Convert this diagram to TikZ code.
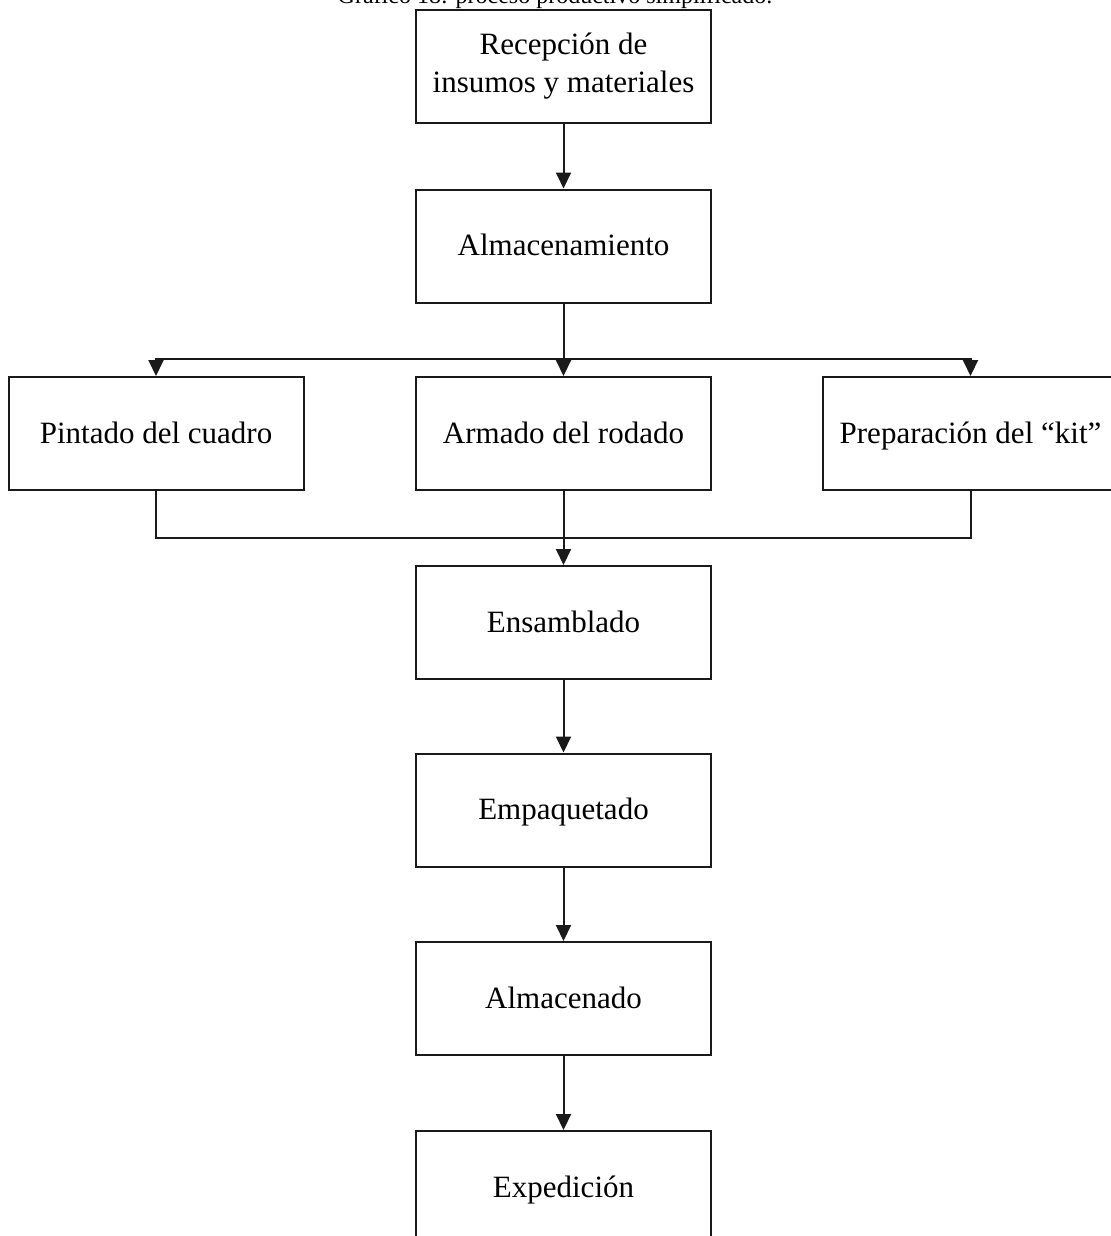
\documentclass[tikz,border=0pt]{standalone}
\usepackage{fontspec}
\setmainfont{Liberation Serif}
\usetikzlibrary{arrows.meta}
\definecolor{linea}{HTML}{1A1A1A}

\begin{document}
\begin{tikzpicture}[x=0.5pt,y=-0.5pt,
  paso/.style={draw=linea,line width=1pt,minimum width=147.5pt,minimum height=56.5pt,
    inner sep=0pt,align=center,font=\fontsize{15.5}{19}\selectfont},
  pasouno/.style={paso,text height=12.5pt,text depth=3pt},
  flecha/.style={draw=linea,line width=1pt,-{Triangle[width=7.5pt,length=8pt]}},
  linea/.style={draw=linea,line width=1pt}]
\useasboundingbox (0,0) rectangle (1110,1236);
% Caption (cut by the page edge)
\node[anchor=base,font=\fontsize{12}{14}\selectfont] (titulo) at (555,4) {Gráfico 18: proceso productivo simplificado.};
% Main column
\node[paso] (recepcion) at (563.5,66.5) {Recepción de\\insumos y materiales};
\node[pasouno] (almacen) at (563.5,246) {Almacenamiento};
\node[pasouno] (pintado) at (156,433.5) {Pintado del cuadro};
\node[pasouno] (armado) at (563.5,433.5) {Armado del rodado};
\node[pasouno] (kit) at (970.5,433.5) {Preparación del “kit”};
\node[pasouno] (ensamblado) at (563.5,622.5) {Ensamblado};
\node[pasouno] (empaquetado) at (563.5,810) {Empaquetado};
\node[pasouno] (almacenado) at (563.5,998.5) {Almacenado};
\node[pasouno] (expedicion) at (563.5,1187.5) {Expedición};
% Connectors
\coordinate (reparto) at (563.5,359);
\coordinate (union) at (563.5,538);
\draw[flecha] (recepcion) -- (almacen);
\draw[linea] (almacen.south) -- (reparto);
\draw[flecha] (reparto) -| (pintado.north);
\draw[flecha] (reparto) -- (armado.north);
\draw[flecha] (reparto) -| (kit.north);
\draw[linea] (pintado.south) |- (union);
\draw[linea] (kit.south) |- (union);
\draw[flecha] (armado.south) -- (ensamblado.north);
\draw[flecha] (ensamblado) -- (empaquetado);
\draw[flecha] (empaquetado) -- (almacenado);
\draw[flecha] (almacenado) -- (expedicion);
\end{tikzpicture}
\end{document}
